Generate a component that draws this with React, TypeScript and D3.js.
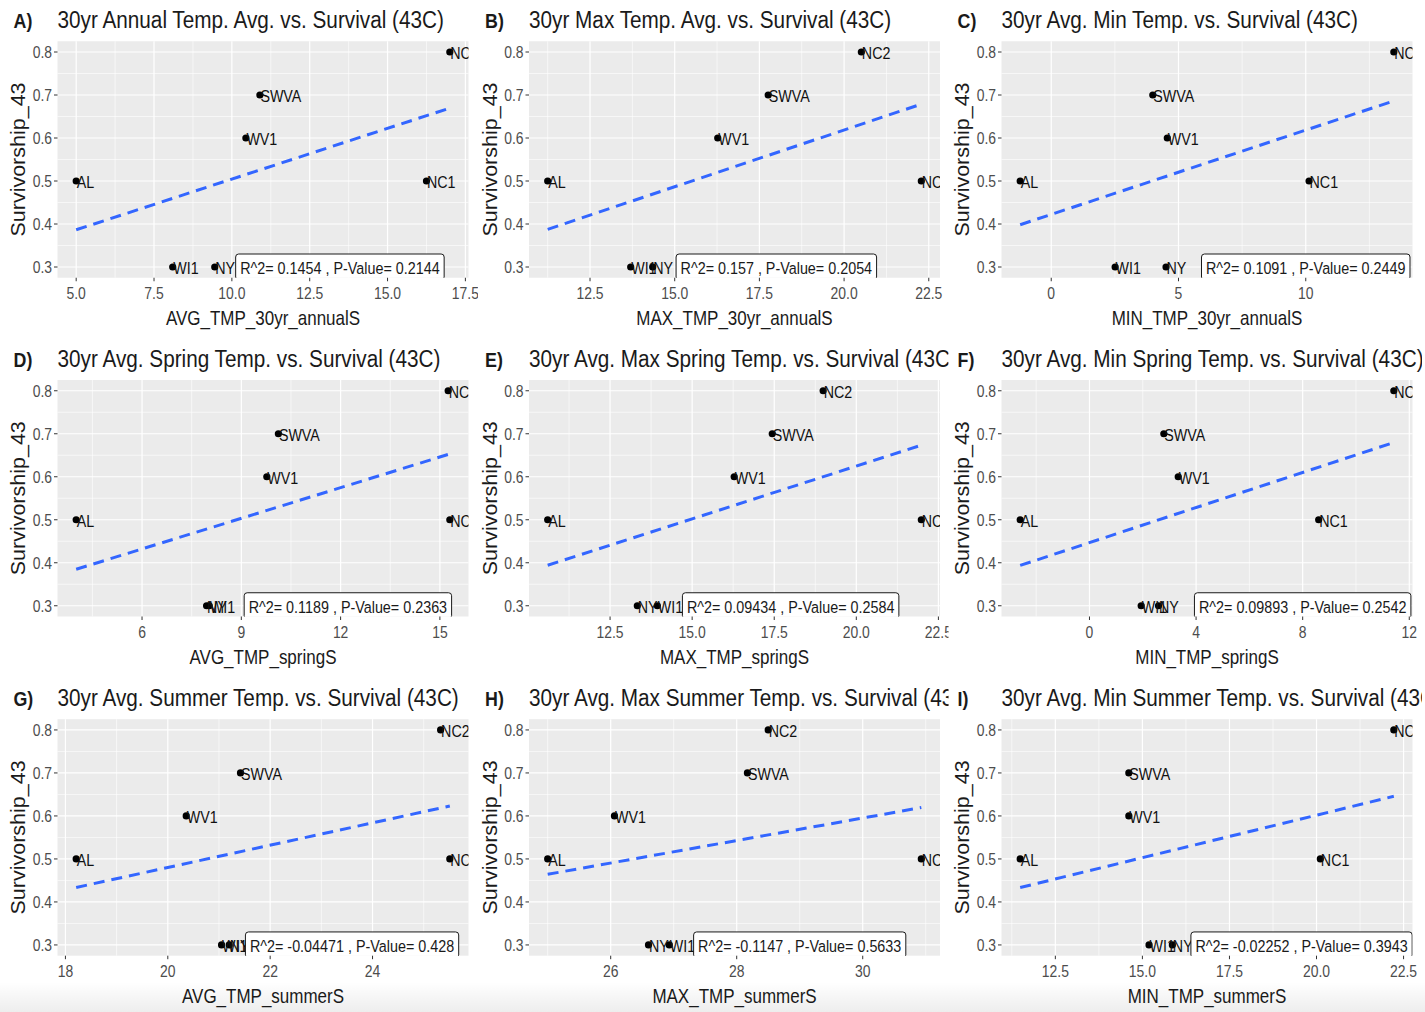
import React from "react";
import * as d3 from "d3";

// ---------- data ----------
const sites = ["AL", "WI1", "NY", "WV1", "SWVA", "NC1", "NC2"];
const survival = [0.5, 0.3, 0.3, 0.6, 0.7, 0.5, 0.8];

const avgAnnual = [5.0, 8.1, 9.45, 10.45, 10.9, 16.25, 17.0];
const maxAnnual = [11.25, 13.7, 14.35, 16.27, 17.76, 22.28, 20.51];
const minAnnual = [-1.22, 2.51, 4.51, 4.56, 3.99, 10.13, 13.46];
const avgSpring = [4.01, 8.03, 7.95, 9.77, 10.12, 15.3, 15.25];
const maxSpring = [10.6, 13.94, 13.33, 16.28, 17.44, 21.98, 18.99];
const minSpring = [-2.6, 1.94, 2.59, 3.33, 2.79, 8.6, 11.42];
const avgSummer = [18.21, 21.05, 21.2, 20.36, 21.42, 25.51, 25.33];
const maxSummer = [25.0, 26.93, 26.6, 26.06, 28.17, 30.93, 28.5];
const minSummer = [11.49, 15.19, 15.86, 14.61, 14.61, 20.11, 22.22];

const yTicks = [0.3, 0.4, 0.5, 0.6, 0.7, 0.8];
const yTickLabels = ["0.3", "0.4", "0.5", "0.6", "0.7", "0.8"];

const tags = ["A)", "B)", "C)", "D)", "E)", "F)", "G)", "H)", "I)"];
const titles = [
  "30yr Annual Temp. Avg. vs. Survival (43C)",
  "30yr Max Temp. Avg. vs. Survival (43C)",
  "30yr Avg. Min Temp. vs. Survival (43C)",
  "30yr Avg. Spring Temp. vs. Survival (43C)",
  "30yr Avg. Max Spring Temp. vs. Survival (43C)",
  "30yr Avg. Min Spring Temp. vs. Survival (43C)",
  "30yr Avg. Summer Temp. vs. Survival (43C)",
  "30yr Avg. Max Summer Temp. vs. Survival (43C)",
  "30yr Avg. Min Summer Temp. vs. Survival (43C)",
];
const xTitles = [
  "AVG_TMP_30yr_annualS",
  "MAX_TMP_30yr_annualS",
  "MIN_TMP_30yr_annualS",
  "AVG_TMP_springS",
  "MAX_TMP_springS",
  "MIN_TMP_springS",
  "AVG_TMP_summerS",
  "MAX_TMP_summerS",
  "MIN_TMP_summerS",
];
const yTitle = "Survivorship_43";
const xSeries = [avgAnnual, maxAnnual, minAnnual, avgSpring, maxSpring, minSpring, avgSummer, maxSummer, minSummer];
const xTickSets = [
  [5, 7.5, 10, 12.5, 15, 17.5],
  [12.5, 15, 17.5, 20, 22.5],
  [0, 5, 10],
  [6, 9, 12, 15],
  [12.5, 15, 17.5, 20, 22.5],
  [0, 4, 8, 12],
  [18, 20, 22, 24],
  [26, 28, 30],
  [12.5, 15, 17.5, 20, 22.5],
];
const xTickLabelSets = [
  ["5.0", "7.5", "10.0", "12.5", "15.0", "17.5"],
  ["12.5", "15.0", "17.5", "20.0", "22.5"],
  ["0", "5", "10"],
  ["6", "9", "12", "15"],
  ["12.5", "15.0", "17.5", "20.0", "22.5"],
  ["0", "4", "8", "12"],
  ["18", "20", "22", "24"],
  ["26", "28", "30"],
  ["12.5", "15.0", "17.5", "20.0", "22.5"],
];
const statLabels = [
  "R^2= 0.1454 , P-Value= 0.2144",
  "R^2= 0.157 , P-Value= 0.2054",
  "R^2= 0.1091 , P-Value= 0.2449",
  "R^2= 0.1189 , P-Value= 0.2363",
  "R^2= 0.09434 , P-Value= 0.2584",
  "R^2= 0.09893 , P-Value= 0.2542",
  "R^2= -0.04471 , P-Value= 0.428",
  "R^2= -0.1147 , P-Value= 0.5633",
  "R^2= -0.02252 , P-Value= 0.3943",
];
// annotation x (data units) for the stats label, placed at survival 0.3
const statX = [13.47, 18.0, 10.0, 12.22, 18.0, 8.0, 23.6, 29.0, 19.57];
const statY = 0.3;

// ---------- layout ----------
const W = 1425;
const H = 1012;
const colLeft = [57.5, 529, 1001.5];
const colClip = [
  [0, 478],
  [478, 948.5],
  [950, 1422],
];
const rowTop = [41.25, 380, 719.2];
const rowClip = [
  [0, 339],
  [339, 678],
  [678, 1012],
];
const PW = 411;
const PH = 236.5;

const FONT = "'Liberation Sans', Arial, sans-serif";

function minorTicks(ticks: number[], domain: number[]) {
  const step = ticks.length > 1 ? ticks[1] - ticks[0] : 1;
  const out: number[] = [];
  for (let v = ticks[0] - step / 2; v <= ticks[ticks.length - 1] + step / 2 + 1e-9; v += step) {
    if (v >= domain[0] && v <= domain[1]) out.push(v);
  }
  return out;
}

type CTProps = {
  x: number;
  y: number;
  size: number;
  sx: number;
  anchor?: "start" | "middle" | "end";
  fill?: string;
  weight?: string;
  children: React.ReactNode;
};
function CText({ x, y, size, sx, anchor = "start", fill = "#1a1a1a", weight = "normal", children }: CTProps) {
  return (
    <text
      transform={`translate(${x},${y}) scale(${sx},1)`}
      textAnchor={anchor}
      dominantBaseline="central"
      fontFamily={FONT}
      fontSize={size}
      fontWeight={weight}
      fill={fill}
    >
      {children}
    </text>
  );
}

function StatLabel({ cx, cy, text }: { cx: number; cy: number; text: string }) {
  const ref = React.useRef<SVGTextElement>(null);
  const SX = 0.855;
  const SIZE = 16.8;
  const [w, setW] = React.useState(200);
  React.useLayoutEffect(() => {
    if (ref.current) setW(ref.current.getComputedTextLength() * SX);
  }, [text]);
  const padX = 4.5;
  const hh = 13;
  return (
    <g>
      <rect x={cx - w / 2 - padX} y={cy - hh} width={w + 2 * padX} height={hh * 2} rx={3} ry={3} fill="#fff" stroke="#1a1a1a" strokeWidth={1} />
      <text
        ref={ref}
        transform={`translate(${cx},${cy + 1}) scale(${SX},1)`}
        textAnchor="middle"
        dominantBaseline="central"
        fontFamily={FONT}
        fontSize={SIZE}
        fill="#1a1a1a"
      >
        {text}
      </text>
    </g>
  );
}

function Panel({ idx }: { idx: number }) {
  const col = idx % 3;
  const row = Math.floor(idx / 3);
  const left = colLeft[col];
  const top = rowTop[row];
  const xs = xSeries[idx];
  const [xmin, xmax] = d3.extent(xs) as [number, number];
  const xpad = (xmax - xmin) * 0.05;
  const xDomain = [xmin - xpad, xmax + xpad];
  const [ymin, ymax] = d3.extent(survival) as [number, number];
  const ypad = (ymax - ymin) * 0.05;
  const yDomain = [ymin - ypad, ymax + ypad];
  const x = d3.scaleLinear().domain(xDomain).range([left, left + PW]);
  const y = d3.scaleLinear().domain(yDomain).range([top + PH, top]);

  // least-squares fit (geom_smooth method = "lm")
  const mx = d3.mean(xs)!;
  const my = d3.mean(survival)!;
  let sxy = 0,
    sxx = 0;
  xs.forEach((v, i) => {
    sxy += (v - mx) * (survival[i] - my);
    sxx += (v - mx) * (v - mx);
  });
  const slope = sxy / sxx;
  const icpt = my - slope * mx;
  const fit = [xmin, xmax].map((v) => [v, icpt + slope * v] as [number, number]);
  const line = d3
    .line<[number, number]>()
    .x((d) => x(d[0]))
    .y((d) => y(d[1]));

  const xt = xTickSets[idx];
  const xMinor = minorTicks(xt, xDomain);
  const yMinor = minorTicks(yTicks, yDomain);
  const bottom = top + PH;

  const clipId = `colclip${idx}`;
  const panelClipId = `panelclip${idx}`;

  return (
    <g>
      <defs>
        <clipPath id={clipId}>
          <rect x={colClip[col][0]} y={rowClip[row][0]} width={colClip[col][1] - colClip[col][0]} height={rowClip[row][1] - rowClip[row][0]} />
        </clipPath>
        <clipPath id={panelClipId}>
          <rect x={left} y={top} width={PW} height={PH} />
        </clipPath>
      </defs>
      <g clipPath={`url(#${clipId})`}>
        <rect x={left} y={top} width={PW} height={PH} fill="#EBEBEB" />
        {xMinor.map((v, i) => (
          <line key={"xm" + i} x1={x(v)} x2={x(v)} y1={top} y2={bottom} stroke="#fff" strokeWidth={0.6} />
        ))}
        {yMinor.map((v, i) => (
          <line key={"ym" + i} x1={left} x2={left + PW} y1={y(v)} y2={y(v)} stroke="#fff" strokeWidth={0.6} />
        ))}
        {xt.map((v, i) => (
          <line key={"xg" + i} x1={x(v)} x2={x(v)} y1={top} y2={bottom} stroke="#fff" strokeWidth={1.2} />
        ))}
        {yTicks.map((v, i) => (
          <line key={"yg" + i} x1={left} x2={left + PW} y1={y(v)} y2={y(v)} stroke="#fff" strokeWidth={1.2} />
        ))}

        <g clipPath={`url(#${panelClipId})`}>
          <path d={line(fit) || ""} fill="none" stroke="#3366FF" strokeWidth={3} strokeDasharray="11,7" />
          {xs.map((v, i) => (
            <circle key={"p" + i} cx={x(v)} cy={y(survival[i])} r={3.6} fill="#000" />
          ))}
          {xs.map((v, i) => (
            <CText key={"l" + i} x={x(v) + 0.5} y={y(survival[i]) + 1.5} size={16.8} sx={0.85} fill="#111">
              {sites[i]}
            </CText>
          ))}
          <StatLabel cx={x(statX[idx])} cy={y(statY)} text={statLabels[idx]} />
        </g>

        {yTicks.map((v, i) => (
          <g key={"yt" + i}>
            <line x1={left - 3.5} x2={left} y1={y(v)} y2={y(v)} stroke="#333" strokeWidth={1} />
            <CText x={left - 5.5} y={y(v)} size={16} sx={0.87} anchor="end" fill="#4D4D4D">
              {yTickLabels[i]}
            </CText>
          </g>
        ))}
        {xt.map((v, i) => (
          <g key={"xt" + i}>
            <line x1={x(v)} x2={x(v)} y1={bottom} y2={bottom + 3.5} stroke="#333" strokeWidth={1} />
            <CText x={x(v)} y={bottom + 15.5} size={16} sx={0.87} anchor="middle" fill="#4D4D4D">
              {xTickLabelSets[idx][i]}
            </CText>
          </g>
        ))}
        <CText x={left + PW / 2} y={bottom + 40.5} size={20} sx={0.85} anchor="middle">
          {xTitles[idx]}
        </CText>
        <text
          transform={`translate(${left - 39.5},${top + PH / 2}) rotate(-90) scale(1,0.9)`}
          textAnchor="middle"
          dominantBaseline="central"
          fontFamily={FONT}
          fontSize={21.5}
          fill="#1a1a1a"
        >
          {yTitle}
        </text>
        <CText x={left - 44} y={top - 21} size={21} sx={0.85} weight="bold">
          {tags[idx]}
        </CText>
        <CText x={left} y={top - 21} size={23.3} sx={0.89}>
          {titles[idx]}
        </CText>
      </g>
    </g>
  );
}

export default function App() {
  return (
    <div style={{ position: "absolute", left: 0, top: 0, width: W, height: H, background: "#fff" }}>
      <svg width={W} height={H} viewBox={`0 0 ${W} ${H}`} style={{ display: "block" }}>
        <defs>
          <linearGradient id="bottomShade" x1="0" y1="0" x2="0" y2="1">
            <stop offset="0" stopColor="#000" stopOpacity={0} />
            <stop offset="1" stopColor="#000" stopOpacity={0.07} />
          </linearGradient>
        </defs>
        <rect x={0} y={0} width={W} height={H} fill="#fff" />
        {d3.range(9).map((i) => (
          <Panel key={i} idx={i} />
        ))}
        <rect x={0} y={982} width={W} height={30} fill="url(#bottomShade)" />
      </svg>
    </div>
  );
}
